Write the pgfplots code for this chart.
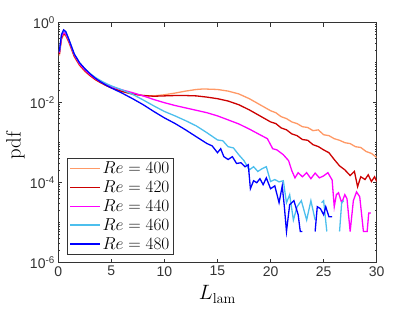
\documentclass[border=0pt]{standalone}
\usepackage[no-math]{fontspec}
\setmainfont{Liberation Sans}
\usepackage{pgfplots}
\pgfplotsset{compat=1.18}
\definecolor{c400}{rgb}{1,0.6,0.4}
\definecolor{c420}{rgb}{0.8,0,0}
\definecolor{c440}{rgb}{1,0,1}
\definecolor{c460}{rgb}{0.3,0.75,0.93}
\definecolor{c480}{rgb}{0,0,1}
\begin{document}
\begin{tikzpicture}
\begin{axis}[
  scale only axis, width=318.4pt, height=240pt,
  ymode=log, xmin=0, xmax=30, ymin=1e-6, ymax=1,
  xtick={0,5,...,30},
  ytick={1e-6,1e-4,1e-2,1},
  yticklabels={10\textsuperscript{-6},10\textsuperscript{-4},10\textsuperscript{-2},10\textsuperscript{0}},
  minor ytick={2e-6,3e-6,4e-6,5e-6,6e-6,7e-6,8e-6,9e-6,1e-5,2e-5,3e-5,4e-5,5e-5,6e-5,7e-5,8e-5,9e-5,
    2e-4,3e-4,4e-4,5e-4,6e-4,7e-4,8e-4,9e-4,1e-3,2e-3,3e-3,4e-3,5e-3,6e-3,7e-3,8e-3,9e-3,
    2e-2,3e-2,4e-2,5e-2,6e-2,7e-2,8e-2,9e-2,1e-1,2e-1,3e-1,4e-1,5e-1,6e-1,7e-1,8e-1,9e-1},
  tick align=inside, xtick pos=both, ytick pos=both,
  major tick length=4pt, minor tick length=2pt,
  tick style={color=black!80, line width=0.6pt},
  axis line style={black!80, line width=0.8pt},
  /pgf/number format/assume math mode=true,
  ticklabel style={font=\fontsize{14}{16}\selectfont, text=black!80},
  xlabel={$L_{\mathrm{lam}}$}, ylabel={$\mathrm{pdf}$},
  label style={font=\fontsize{22}{24}\selectfont},
  xlabel style={at={(axis description cs:0.5,-0.155)}, anchor=base},
  ylabel style={at={(axis description cs:-0.135,0.49)}, anchor=center},
  unbounded coords=jump,
  every axis plot/.append style={line width=1.3pt},
  legend cell align=left,
  legend image code/.code={\draw[#1, line width=1.3pt] (0pt,0pt) -- (30pt,0pt);},
  legend style={at={(0.028,0.033)}, anchor=south west, draw=black!80,
    font=\fontsize{16}{18}\selectfont, row sep=1.5pt, inner sep=2pt},
]
\coordinate (ll) at (rel axis cs:0,0);
\coordinate (ur) at (rel axis cs:1,1);
\addplot[c400] coordinates {
(0.1,0.151)(0.3,0.380)(0.5,0.50)(0.7,0.468)(1.0,0.316)(1.5,0.141)(2.0,0.0851)(2.5,0.0603)
(3.0,0.0468)(3.5,0.0372)(4.0,0.0316)(4.5,0.0269)(5,0.0234)(6,0.0191)(7,0.0162)(8,0.0151)
(9,0.0148)(10,0.0158)(11,0.0174)(12,0.0195)(13,0.0214)(13.5,0.0219)(14,0.0219)(15,0.0214)
(16,0.0195)(17,0.0166)(18,0.0126)(19,0.00891)(20,0.00631)(20.5,0.00560)(21,0.00447)(21.5,0.00400)
(22,0.00331)(22.5,0.00300)(23,0.00251)(23.5,0.00240)(24,0.00200)(24.5,0.00209)(25,0.00158)
(25.5,0.00150)(26,0.00126)(26.5,0.00115)(27,0.00100)(27.5,0.00095)(28,0.000794)(28.5,0.000760)
(29,0.000603)(29.5,0.000540)(30,0.000427)};
\addlegendentry{$Re=400$}
\addplot[c420] coordinates {
(0.1,0.166)(0.3,0.417)(0.5,0.537)(0.7,0.501)(1.0,0.339)(1.5,0.148)(2.0,0.0891)(2.5,0.0631)
(3.0,0.0479)(3.5,0.0380)(4.0,0.0316)(4.5,0.0269)(5,0.0234)(6,0.0191)(7,0.0166)(8,0.0151)
(9,0.0145)(10,0.0148)(11,0.0151)(12,0.0151)(13,0.0148)(14,0.0138)(15,0.0126)(16,0.0110)
(17,0.00891)(18,0.00661)(19,0.00468)(20,0.00331)(20.5,0.00300)(21,0.00234)(21.5,0.00210)
(22,0.00166)(22.5,0.00150)(23,0.00120)(23.5,0.00115)(24,0.000891)(24.5,0.000800)(25,0.000661)
(25.5,0.000562)(26,0.000380)(26.5,0.000263)(27,0.000209)(27.5,0.000151)(27.9,0.000191)
(28.2,0.0000794)(28.5,0.000141)(28.9,0.000120)(29.2,0.000158)(29.5,0.000107)(29.8,0.000141)(30,0.000107)};
\addlegendentry{$Re=420$}
\addplot[c440] coordinates {
(0.1,0.178)(0.3,0.447)(0.5,0.575)(0.7,0.525)(1.0,0.355)(1.5,0.158)(2.0,0.0933)(2.5,0.0661)
(3.0,0.0501)(3.5,0.0398)(4.0,0.0331)(4.5,0.0282)(5,0.0251)(6,0.0209)(7,0.0178)(8,0.0148)
(9,0.0120)(10,0.0100)(11,0.00851)(12,0.00741)(13,0.00646)(14,0.00562)(15,0.00468)(16,0.00372)
(17,0.00295)(18,0.00219)(19,0.00158)(19.7,0.00126)(20.2,0.000708)(20.6,0.000661)(21.2,0.000501)
(21.7,0.000355)(22,0.000200)(22.3,0.000132)(22.6,0.000178)(23,0.000141)(23.4,0.000178)
(23.8,0.000126)(24.2,0.000174)(24.6,0.000132)(25,0.000148)(25.4,0.000178)(25.8,0.000117)
(26.0,0.0000251)(26.2,0.0000501)(26.4,0.0000562)(26.7,0.0000316)(27.0,0.0000501)(27.2,0.0000398)
(27.5,0.00000603)(27.8,0.0000355)(28.1,0.0000589)(28.4,0.0000447)(28.75,0.00000603)
(29.1,0.00000603)(29.25,0.0000174)(29.45,0.0000174)};
\addlegendentry{$Re=440$}
\addplot[c460] coordinates {
(0.1,0.191)(0.3,0.501)(0.5,0.631)(0.7,0.589)(1.0,0.380)(1.5,0.166)(2.0,0.100)(2.5,0.0708)
(3.0,0.0537)(3.5,0.0427)(4.0,0.0355)(4.5,0.0302)(5,0.0263)(6,0.0209)(7,0.0162)(8,0.0117)
(9,0.00832)(10,0.00603)(11,0.00468)(12,0.00355)(13,0.00263)(14,0.00178)(15,0.00117)(15.5,0.00112)
(16,0.000794)(16.5,0.000741)(17,0.000501)(17.5,0.000355)(18,0.000209)(18.4,0.000251)(18.8,0.000191)
(19.2,0.000224)(19.6,0.000251)(20,0.000107)(20.4,0.000120)(20.8,0.000105)(21.2,0.000112)
(21.5,0.0000316)(21.8,0.0000501)(22.15,0.0000117)(22.5,0.0000251)(22.9,0.0000355)(23.4,0.0000117)
(23.8,0.0000355)(24.2,0.0000117)(24.5,nan)(24.8,0.0000316)(25.0,0.0000355)(25.3,0.00000603)
(25.9,nan)(26.5,0.00000603)(26.7,0.0000316)(26.9,0.0000355)};
\addlegendentry{$Re=460$}
\addplot[c480] coordinates {
(0.1,0.191)(0.3,0.501)(0.5,0.661)(0.7,0.603)(1.0,0.380)(1.5,0.166)(2.0,0.100)(2.5,0.0708)
(3.0,0.0525)(3.5,0.0407)(4.0,0.0331)(4.5,0.0275)(5,0.0234)(6,0.0174)(7,0.0126)(8,0.00891)
(9,0.00603)(10,0.00417)(11,0.00302)(12,0.00209)(13,0.00141)(14,0.000955)(14.5,0.000832)
(15,0.000562)(15.3,0.000708)(15.6,0.000447)(16,0.000380)(16.4,0.000447)(16.8,0.000302)
(17.2,0.000316)(17.6,0.000251)(17.9,0.000282)(18.1,0.0000708)(18.4,0.000112)(18.7,0.000100)
(19.0,0.000126)(19.3,0.0000891)(19.6,0.000132)(20.0,0.0000708)(20.4,0.0000832)(20.8,0.0000316)
(21.1,0.0000832)(21.3,0.0000251)(21.5,0.00000603)(21.8,0.0000282)(22.2,0.0000355)(22.6,0.0000158)
(22.8,0.00000603)(23.0,0.00000603)(23.6,nan)(24.2,0.00000603)(24.4,0.0000251)(24.7,0.0000224)
(25.0,0.0000158)(25.2,0.0000251)(25.5,0.0000141)(25.8,0.0000141)};
\addlegendentry{$Re=480$}
\end{axis}
\pgfresetboundingbox
\path[use as bounding box] ([shift={(-58.3pt,-49.3pt)}]ll) rectangle ([shift={(38.3pt,22.7pt)}]ur);
\end{tikzpicture}
\end{document}
